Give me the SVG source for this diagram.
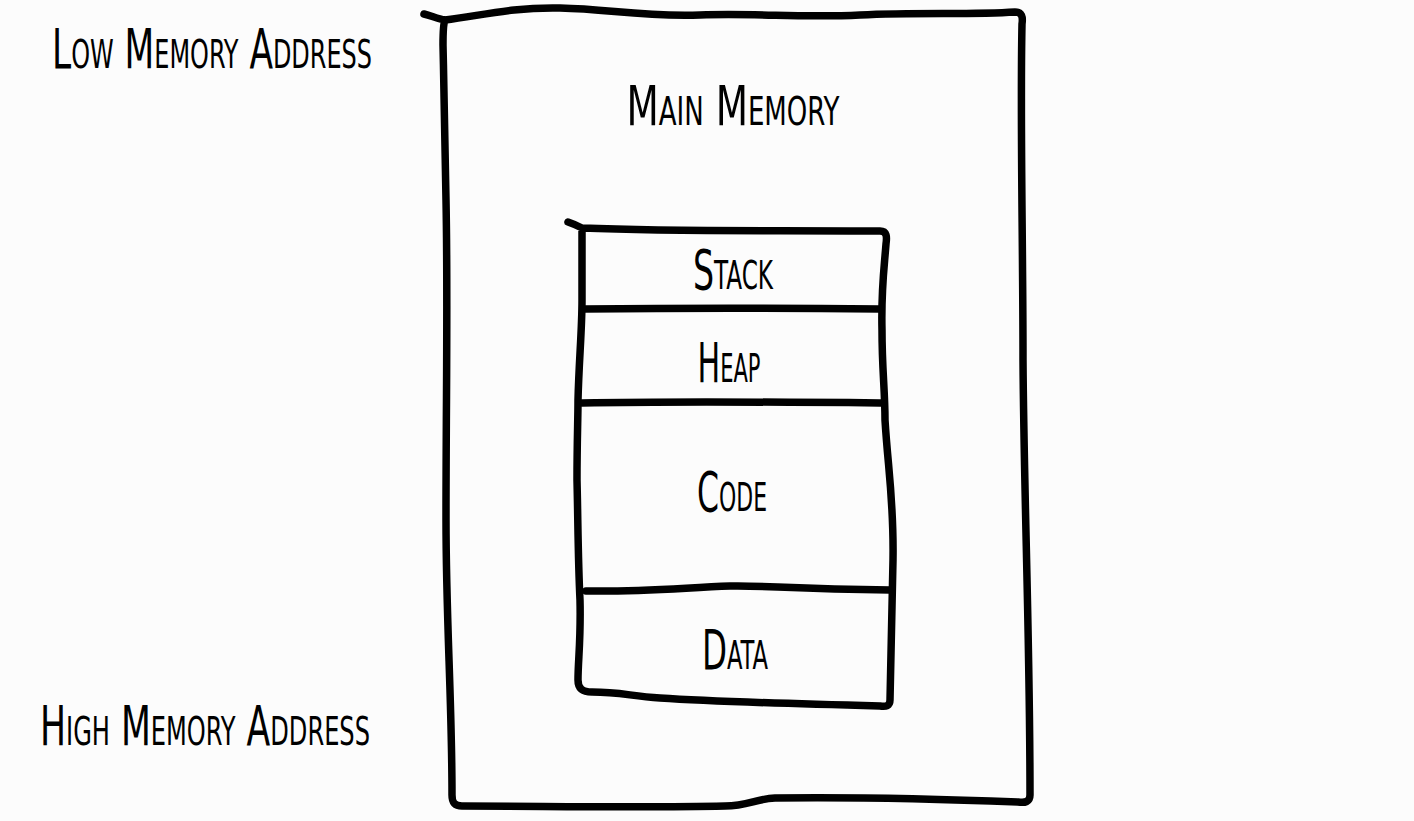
<svg xmlns="http://www.w3.org/2000/svg" width="1414" height="821" viewBox="0 0 1414 821">
<style>
.ln{fill:none;stroke:#000;stroke-width:7.5;stroke-linecap:round;stroke-linejoin:round}
.t{font-family:"DejaVu Sans Condensed","DejaVu Sans",sans-serif;font-size:56px;font-variant:small-caps;fill:#000}
.c{text-anchor:middle}
</style>
<rect width="1414" height="821" fill="#fcfcfc"/>
<g id="labels">
<text class="t" x="52" y="68" textLength="320" lengthAdjust="spacingAndGlyphs">Low Memory Address</text>
<text class="t" x="40" y="745" textLength="330" lengthAdjust="spacingAndGlyphs">High Memory Address</text>
</g>
<g id="main-memory">
<path class="ln" d="M424,14 C432,16 438,19 445,20 C480,16 510,7 560,8 C610,9 640,17 700,15 C760,13 800,18 860,15 C920,12 970,15 1015,12 C1022,12 1023,17 1022,24 C1020,120 1023,240 1023,360 C1024,500 1030,640 1030,795 C1030,802 1025,803 1018,802 C940,799 860,797 775,798 C755,799 748,806 725,806 C640,808 540,806 462,806 C454,806 452,802 452,795 C452,700 446,620 446,520 C446,400 448,300 446,200 C445,130 444,90 443,45 C443,30 444,22 445,20"/>
<text class="t c" x="733" y="125" textLength="213" lengthAdjust="spacingAndGlyphs">Main Memory</text>
</g>
<g id="segments">
<path class="ln" d="M568,222 C574,224 578,226 582,228 C680,232 780,230 880,231 C887,231 887,237 886,244 C884,270 881,290 882,330 C882,370 885,390 885,420 C888,470 894,500 893,560 C892,620 891,660 890,700 C890,706 886,707 880,706 C800,704 720,702 660,698 C630,696 620,692 592,692 C582,692 578,688 578,680 C578,660 581,640 580,600 C578,560 578,520 577,480 C577,440 578,420 578,400 C579,360 582,330 582,300 C582,270 582,250 582,228"/>
<path class="ln" d="M584,309 C680,308 780,308 880,309"/>
<path class="ln" d="M582,403 C680,401 780,402 884,403"/>
<path class="ln" d="M586,591 C640,592 680,588 730,586 C760,585 790,589 890,590"/>
</g>
<g id="segment-labels">
<text class="t c" x="733" y="289" textLength="80" lengthAdjust="spacingAndGlyphs">Stack</text>
<text class="t c" x="729" y="382" textLength="63" lengthAdjust="spacingAndGlyphs">Heap</text>
<text class="t c" x="732" y="511" textLength="70" lengthAdjust="spacingAndGlyphs">Code</text>
<text class="t c" x="735" y="669" textLength="66" lengthAdjust="spacingAndGlyphs">Data</text>
</g>
</svg>
